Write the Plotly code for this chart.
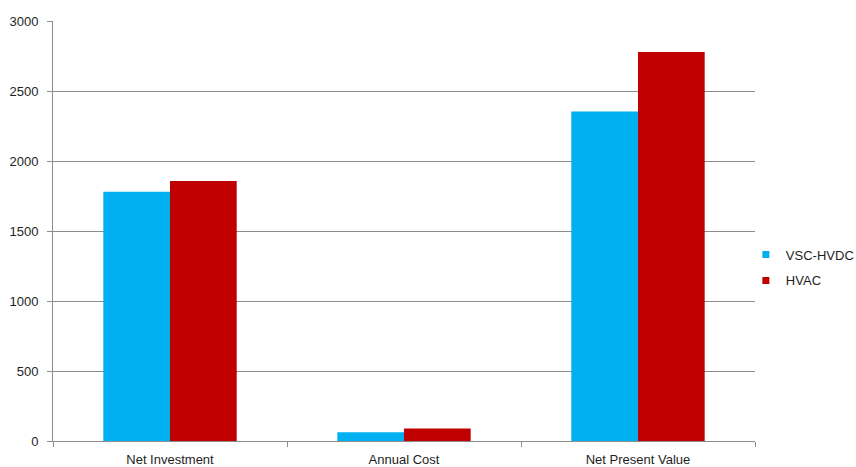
import plotly.graph_objects as go

categories = ["Net Investment", "Annual Cost", "Net Present Value"]
vsc_hvdc = [1781, 62, 2354]
hvac = [1857, 90, 2779]
series_names = ["VSC-HVDC", "HVAC"]
colors = ["#00B0F0", "#C00000"]
y_ticks = [0, 500, 1000, 1500, 2000, 2500, 3000]

fig = go.Figure()
for name, vals, col in zip(series_names, [vsc_hvdc, hvac], colors):
    fig.add_trace(go.Bar(x=categories, y=vals, name=name, marker=dict(color=col, line=dict(width=0)),
                         showlegend=False))
    fig.add_trace(go.Scatter(x=[None], y=[None], mode="markers", name=name, legendgroup=name,
                             marker=dict(symbol="square", size=7, color=col)))

font = dict(family="Liberation Sans, Arial, sans-serif", size=13, color="#1e1e1e")
fig.update_layout(
    width=856, height=467,
    margin=dict(l=53, r=101, t=21, b=26, autoexpand=False),
    paper_bgcolor="white", plot_bgcolor="white",
    barmode="group", bargap=0.43, bargroupgap=0,
    font=font,
    legend=dict(x=0.987, y=0.413, xanchor="left", yanchor="middle", font=font,
                itemwidth=30, tracegroupgap=6, bgcolor="rgba(0,0,0,0)"),
    xaxis=dict(showline=True, linecolor="#8c8c8c", linewidth=1, ticks="outside",
               tickson="boundaries", ticklen=5, tickcolor="#8c8c8c", showgrid=False,
               range=[-0.5, 2.5], ticklabelstandoff=6),
    yaxis=dict(range=[0, 3000], tickvals=y_ticks, showline=True, linecolor="#8c8c8c",
               linewidth=1, ticks="outside", ticklen=5, tickcolor="#8c8c8c",
               showgrid=True, gridcolor="#8c8c8c", gridwidth=1, zeroline=False,
               ticklabelstandoff=6),
)
fig.write_html("out.html")
